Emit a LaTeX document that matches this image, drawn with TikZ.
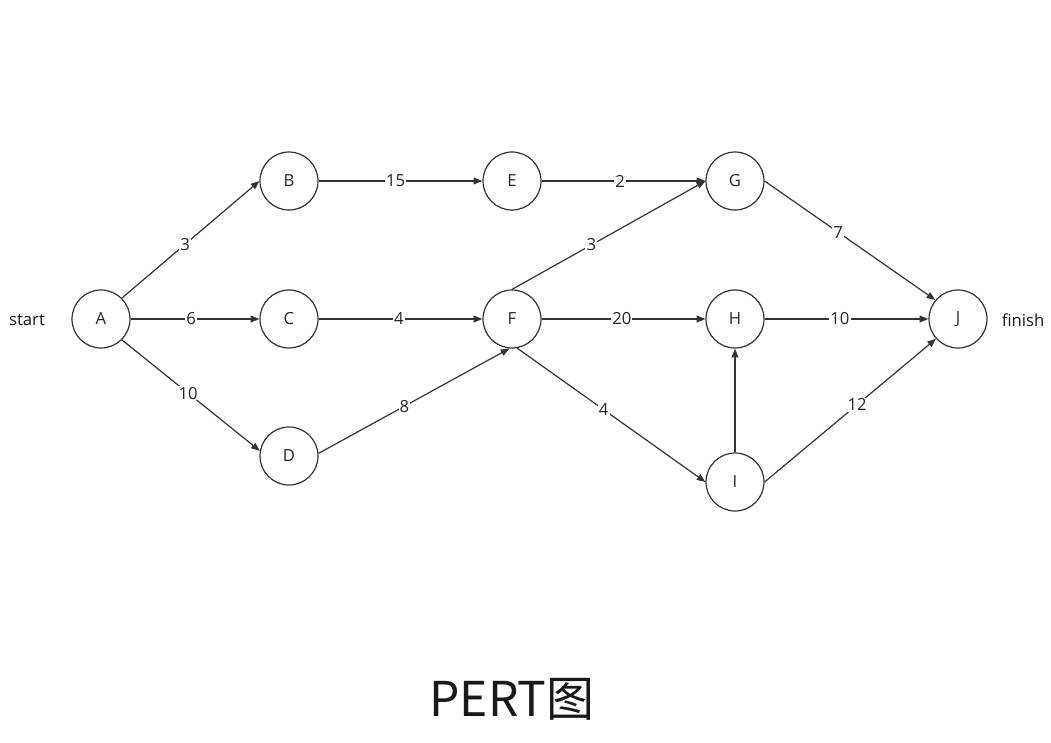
\documentclass[tikz,border=0pt]{standalone}
\usepackage{fontspec}
\setmainfont{Open Sans}
\newfontfamily\cjk{Noto Sans CJK SC}
\usetikzlibrary{arrows.meta}
\definecolor{linec}{HTML}{333333}
\begin{document}
\begin{tikzpicture}[x=0.75pt,y=-0.75pt,
  evt/.style={circle,draw=linec,line width=0.9pt,minimum size=43.5pt,inner sep=0pt,font=\fontsize{12.5}{14}\selectfont,text=black!85},
  conn/.style={draw=linec,line width=0.9pt,-{Triangle[length=6.5pt,width=5pt]}},
  wt/.style={fill=white,inner sep=0.8pt,font=\fontsize{12.5}{14}\selectfont,text=black!85},
  side/.style={font=\fontsize{12.5}{14}\selectfont,text=black!90}]
\useasboundingbox (0,0) rectangle (1051,743);
\node[evt] (A) at (101,319) {A};
\node[evt] (B) at (289,181) {B};
\node[evt] (C) at (289,319) {C};
\node[evt] (D) at (289,456) {D};
\node[evt] (E) at (512,181) {E};
\node[evt] (F) at (512,319) {F};
\node[evt] (G) at (735,181) {G};
\node[evt] (H) at (735,319) {H};
\node[evt] (I) at (735,482) {I};
\node[evt] (J) at (958,319) {J};
\node[side] (st) at (27,320) {start};
\node[side] (fi) at (1023,320) {finish};
\path[conn] (A.45) -- node[wt,pos=0.46]{3} (B.west);
\path[conn] (A.east) -- node[wt,pos=0.47]{6} (C.west);
\path[conn] (A.-45) -- node[wt,pos=0.48]{10} (D.170);
\path[conn] (B.east) -- node[wt,pos=0.47]{15} (E.west);
\path[conn] (C.east) -- node[wt,pos=0.49]{4} (F.west);
\path[conn] (D.5) -- node[wt,pos=0.45]{8} (F.-95);
\path[conn] (E.east) -- node[wt,pos=0.48]{2} (G.west);
\path[conn] (F.north) -- node[wt,pos=0.41]{3} (G.west);
\path[conn] (F.east) -- node[wt,pos=0.49]{20} (H.west);
\path[conn] (F.-80) -- node[wt,pos=0.46]{4} (I.west);
\path[conn] (I.north) -- (H.south);
\path[conn] (G.east) -- node[wt,pos=0.43]{7} (J.140);
\path[conn] (H.east) -- node[wt,pos=0.46]{10} (J.west);
\path[conn] (I.east) -- node[wt,pos=0.54]{12} (J.222);
\node[font=\cjk\fontsize{36}{42}\selectfont,text=black!90] (title) at (512,699) {PERT图};
\end{tikzpicture}
\end{document}
